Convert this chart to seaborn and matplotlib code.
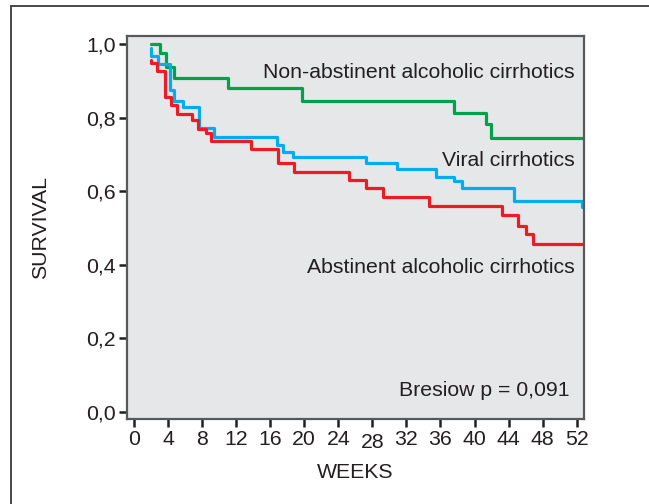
import matplotlib
matplotlib.use("Agg")
import matplotlib.pyplot as plt
import matplotlib.transforms as mtransforms
from matplotlib.lines import Line2D
import seaborn as sns
import pandas as pd

# ---- data ----
green_weeks = [1.96, 3.05, 3.8, 4.74, 11.1, 19.7, 37.6, 41.3, 41.95, 52.6]
green_surv = [1.0, 0.975, 0.938, 0.909, 0.880, 0.845, 0.812, 0.782, 0.744, 0.744]

blue_weeks = [1.96, 2.0, 2.86, 4.23, 4.74, 5.72, 7.6, 9.4, 16.84, 17.55, 18.72,
              27.2, 30.86, 35.45, 37.6, 38.5, 44.6, 52.6]
blue_surv = [0.99, 0.968, 0.945, 0.875, 0.845, 0.830, 0.771, 0.747, 0.726, 0.707,
             0.694, 0.678, 0.660, 0.639, 0.629, 0.608, 0.574, 0.556]

red_weeks = [1.96, 2.0, 2.74, 3.64, 4.35, 5.09, 6.78, 7.56, 8.46, 9.05, 13.8,
             16.96, 18.8, 25.3, 27.2, 29.2, 34.7, 43.2, 45.05, 46.0, 46.9, 52.6]
red_surv = [0.958, 0.948, 0.927, 0.855, 0.834, 0.810, 0.793, 0.768, 0.757, 0.736,
            0.715, 0.676, 0.653, 0.630, 0.608, 0.585, 0.560, 0.535, 0.505, 0.483,
            0.456, 0.456]

group_names = ["Non-abstinent alcoholic cirrhotics", "Viral cirrhotics",
               "Abstinent alcoholic cirrhotics"]
x_ticks = [0, 4, 8, 12, 16, 20, 24, 28, 32, 36, 40, 44, 48, 52]
y_ticks = [0.0, 0.2, 0.4, 0.6, 0.8, 1.0]
y_tick_labels = ["0,0", "0,2", "0,4", "0,6", "0,8", "1,0"]
p_text = "Bresiow p = 0,091"

colors = {group_names[0]: "#00a14b", group_names[1]: "#00aeef",
          group_names[2]: "#ed1c24"}

df = pd.concat([
    pd.DataFrame({"weeks": green_weeks, "survival": green_surv, "group": group_names[0]}),
    pd.DataFrame({"weeks": blue_weeks, "survival": blue_surv, "group": group_names[1]}),
    pd.DataFrame({"weeks": red_weeks, "survival": red_surv, "group": group_names[2]}),
], ignore_index=True)

sns.set_style("white")
plt.rcParams["font.family"] = ["Liberation Sans", "DejaVu Sans"]
text_color = "#231f20"
FS = 15.3

fig = plt.figure(figsize=(6.49, 5.04), dpi=100)
ax = fig.add_axes([127 / 649, 1 - 419 / 504, (584 - 127) / 649, (419 - 36) / 504])
ax.set_facecolor("#e6e7e9")

sns.lineplot(data=df, x="weeks", y="survival", hue="group", palette=colors,
             drawstyle="steps-post", estimator=None, sort=False, legend=False,
             linewidth=2.3, ax=ax)

ax.set_xlim(-0.82, 52.86)
ax.set_ylim(-0.019, 1.022)
ax.set_xticks(x_ticks)
ax.set_xticklabels([str(t) for t in x_ticks])
ax.set_yticks(y_ticks)
ax.set_yticklabels(y_tick_labels)
ax.tick_params(axis="both", bottom=True, left=True, direction="out", length=6,
               width=1.8, colors="#231f20", labelsize=FS, labelcolor=text_color, pad=2)
for sp in ax.spines.values():
    sp.set_color("#58595b")
    sp.set_linewidth(1.6)

# the "28" label sits slightly lower in the reference
for lab in ax.get_xticklabels():
    if lab.get_text() == "28":
        lab.set_transform(lab.get_transform() +
                          mtransforms.ScaledTranslation(0, -2 / 72, fig.dpi_scale_trans))

ax.set_xlabel("WEEKS", fontsize=FS, color=text_color, labelpad=8)
ax.set_ylabel("SURVIVAL", fontsize=FS, color=text_color, labelpad=26)

ax.text(51.8, 0.922, group_names[0], ha="right", va="center", fontsize=FS, color=text_color)
ax.text(51.8, 0.6845, group_names[1], ha="right", va="center", fontsize=FS, color=text_color)
ax.text(51.8, 0.394, group_names[2], ha="right", va="center", fontsize=FS, color=text_color)
ax.text(51.2, 0.0595, p_text, ha="right", va="center", fontsize=FS, color=text_color)

# outer frame (top and left lines of the figure box)
fig.add_artist(Line2D([11 / 649, 11 / 649], [0, 1 - 6 / 504], transform=fig.transFigure,
                      color="#3a3a3a", linewidth=1.3))
fig.add_artist(Line2D([11 / 649, 1], [1 - 6 / 504, 1 - 6 / 504], transform=fig.transFigure,
                      color="#3a3a3a", linewidth=1.3))

fig.savefig("out.png", dpi=100)
